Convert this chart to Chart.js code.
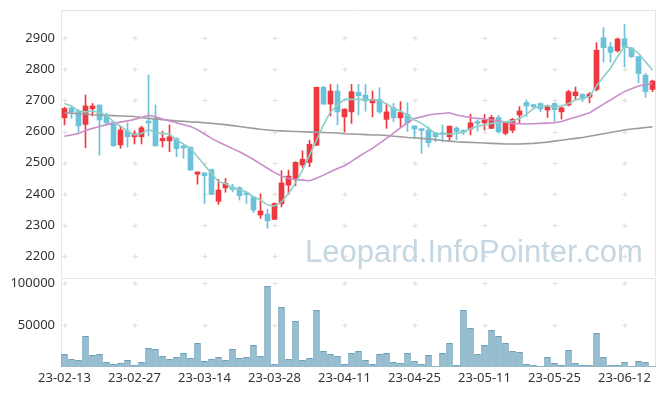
<!DOCTYPE html>
<html lang="ko">
<head>
    <meta charset="UTF-8">
    <title>Candle Chart</title>
    <script src="https://cdn.jsdelivr.net/npm/chart.js"></script>
    <style>
        body { margin: 0; background: #fff; }
        #wrap { position: relative; width: 665px; height: 396px; overflow: hidden; }
        #priceChart { position: absolute; left: 0; top: 0; }
        #volChart { position: absolute; left: 0; top: 277px; }
        /* watermark */
        #mark {
            position: absolute; left: 305px; top: 236px;
            font: 31px/31px "Liberation Sans", Arial, sans-serif;
            color: #c4d7e2; white-space: nowrap; pointer-events: none;
        }
    </style>
</head>
<body>
<div id="wrap">
    <canvas id="priceChart" width="665" height="277"></canvas>
    <canvas id="volChart" width="665" height="119"></canvas>
    <div id="mark">Leopard.InfoPointer.com</div>
</div>
<script>
    // trading days
    const dates = [
        '23-02-13','23-02-14','23-02-15','23-02-16','23-02-17','23-02-20','23-02-21','23-02-22','23-02-23','23-02-24',
        '23-02-27','23-02-28','23-03-02','23-03-03','23-03-06','23-03-07','23-03-08','23-03-09','23-03-10','23-03-13',
        '23-03-14','23-03-15','23-03-16','23-03-17','23-03-20','23-03-21','23-03-22','23-03-23','23-03-24','23-03-27',
        '23-03-28','23-03-29','23-03-30','23-03-31','23-04-03','23-04-04','23-04-05','23-04-06','23-04-07','23-04-10',
        '23-04-11','23-04-12','23-04-13','23-04-14','23-04-17','23-04-18','23-04-19','23-04-20','23-04-21','23-04-24',
        '23-04-25','23-04-26','23-04-27','23-04-28','23-05-02','23-05-03','23-05-04','23-05-08','23-05-09','23-05-10',
        '23-05-11','23-05-12','23-05-15','23-05-16','23-05-17','23-05-18','23-05-19','23-05-22','23-05-23','23-05-24',
        '23-05-25','23-05-26','23-05-30','23-05-31','23-06-01','23-06-02','23-06-05','23-06-07','23-06-08','23-06-09',
        '23-06-12','23-06-13','23-06-14','23-06-15','23-06-16'
    ];

    const openP = [2644,2676,2666,2623,2673,2685,2653,2630,2557,2601, 2583,2583,2631,2642,2570,2570,2577,2551,2549,2463,
        2467,2478,2376,2419,2422,2420,2401,2390,2332,2335, 2318,2368,2428,2447,2492,2501,2556,2742,2688,2730,
        2647,2663,2726,2717,2692,2703,2639,2676,2644,2655, 2618,2606,2604,2596,2593,2583,2611,2601,2608,2629,
        2628,2610,2645,2594,2604,2653,2693,2685,2690,2669, 2690,2663,2685,2715,2719,2710,2735,2901,2872,2859,
        2897,2868,2840,2781,2735];
    const highP = [2678,2677,2670,2717,2690,2685,2659,2632,2617,2628, 2602,2617,2781,2685,2601,2621,2580,2556,2551,2471,
        2468,2480,2447,2449,2431,2423,2401,2391,2400,2350, 2371,2474,2476,2503,2538,2572,2742,2746,2751,2751,
        2673,2751,2752,2751,2730,2741,2690,2690,2696,2692, 2618,2606,2615,2597,2621,2618,2615,2605,2655,2637,
        2655,2652,2652,2630,2642,2680,2701,2687,2692,2685, 2692,2680,2732,2743,2722,2725,2885,2934,2886,2900,
        2944,2870,2842,2787,2765];
    const lowP = [2621,2642,2599,2548,2650,2524,2621,2553,2546,2550, 2560,2560,2586,2553,2550,2535,2519,2514,2475,2431,
        2369,2397,2366,2405,2406,2380,2369,2340,2321,2289, 2317,2358,2398,2426,2485,2487,2555,2687,2650,2621,
        2599,2626,2653,2665,2647,2658,2610,2631,2615,2600, 2578,2530,2551,2567,2567,2567,2573,2590,2589,2601,
        2605,2609,2594,2589,2596,2626,2648,2672,2663,2645, 2631,2640,2682,2700,2696,2692,2730,2823,2822,2855,
        2808,2838,2756,2710,2728];
    const closeP = [2674,2663,2618,2682,2682,2637,2628,2554,2605,2583, 2592,2612,2627,2554,2578,2583,2545,2547,2476,2470,
        2458,2398,2412,2433,2414,2394,2397,2348,2345,2313, 2369,2435,2457,2501,2511,2559,2742,2688,2730,2663,
        2672,2728,2715,2698,2703,2663,2663,2644,2661,2628, 2608,2603,2564,2583,2590,2617,2600,2598,2628,2626,
        2637,2645,2599,2629,2639,2666,2682,2680,2672,2682, 2670,2676,2728,2727,2704,2720,2861,2869,2854,2897,
        2870,2840,2786,2728,2762];

    // moving averages
    const ma5 = [2690,2682,2666,2663,2666,2660,2653,2631,2617,2601, 2589,2594,2607,2596,2594,2592,2572,2560,2546,2519,
        2492,2466,2439,2432,2419,2414,2406,2390,2380,2364, 2361,2374,2401,2435,2476,2524,2572,2621,2663,2685,
        2703,2703,2703,2701,2701,2701,2688,2674,2666,2653, 2637,2626,2610,2594,2591,2592,2594,2597,2610,2617,
        2621,2626,2629,2631,2634,2642,2655,2674,2682,2682, 2679,2682,2690,2701,2706,2712,2746,2776,2803,2840,
        2872,2867,2851,2824,2797];
    const ma20 = [2585,2589,2594,2603,2610,2616,2622,2626,2630,2634, 2639,2645,2652,2647,2640,2634,2628,2622,2616,2606,
        2592,2578,2566,2556,2545,2535,2523,2510,2496,2482, 2468,2457,2450,2446,2444,2442,2450,2460,2471,2481,
        2490,2504,2519,2533,2546,2562,2578,2595,2612,2628, 2642,2647,2653,2656,2658,2660,2653,2649,2645,2642,
        2640,2637,2634,2630,2626,2625,2624,2625,2626,2627, 2628,2632,2639,2646,2653,2660,2674,2688,2701,2715,
        2728,2737,2746,2751,2755];
    const ma60 = [2660,2659,2657,2656,2654,2653,2652,2651,2650,2649, 2648,2645,2642,2640,2638,2636,2634,2633,2631,2630,
        2628,2626,2624,2622,2619,2616,2613,2610,2607,2605, 2603,2602,2601,2600,2599,2598,2598,2597,2596,2595,
        2593,2592,2591,2590,2589,2589,2587,2585,2583,2581, 2580,2578,2576,2574,2571,2569,2567,2566,2565,2564,
        2563,2562,2561,2560,2560,2560,2561,2562,2564,2566, 2569,2572,2575,2578,2581,2585,2589,2593,2597,2601,
        2605,2608,2610,2613,2615];

    const volume = [15000,9100,7900,36500,13900,15100,5600,3200,4400,7900, 2000,5600,22200,21000,12700,9100,11500,16300,10300,28200,
        6700,9100,11500,7900,21000,10300,11500,25800,12700,96000, 3200,71000,9100,54400,7900,10300,67500,18700,15100,12700,
        3200,16300,18700,7900,3200,15100,16300,5600,4400,16300, 6700,3200,13900,800,16300,28200,2000,67500,46000,15100,
        25800,43600,36500,28200,18700,17500,3200,2000,800,11500, 4400,2000,19800,4400,2000,2000,40100,11500,2000,2000,
        5600,800,6700,5600,800];

    const priceTicks = [2200, 2300, 2400, 2500, 2600, 2700, 2800, 2900];
    const volumeTicks = [50000, 100000];

    const UP = '#ec383e';
    const DOWN = '#6cc3d9';
    const candleColor = ctx => closeP[ctx.dataIndex] >= openP[ctx.dataIndex] ? UP : DOWN;

    Chart.defaults.font.family = '"Noto Sans", sans-serif';
    Chart.defaults.font.size = 13;
    Chart.defaults.color = '#333';

    // light box + small "+" marks where the grid would cross
    const plusGrid = {
        id: 'plusGrid',
        beforeDatasetsDraw(chart, args, opts) {
            const { ctx, chartArea: a, scales } = chart;
            const L = a.left + 0.5, R = a.right - 0.5, T = a.top + 0.5, B = a.bottom - 0.5;
            ctx.save();
            ctx.strokeStyle = '#e4e4e4';
            ctx.lineWidth = 1;
            ctx.beginPath();
            ctx.moveTo(L, B); ctx.lineTo(L, T); ctx.lineTo(R, T); ctx.lineTo(R, B);
            if (opts.bottom) { ctx.lineTo(L, B); }
            ctx.stroke();

            const xs = dates.map((d, i) => i).filter(i => i % 10 === 0)
                .map(i => Math.floor(scales.x.getPixelForValue(i)) + 0.5);
            const ys = scales.y.ticks.map(t => Math.round(scales.y.getPixelForValue(t.value)) + 0.5);
            ctx.strokeStyle = '#dedede';
            ctx.beginPath();
            xs.forEach(x => ys.forEach(y => {
                ctx.moveTo(x - 2, y); ctx.lineTo(x + 3, y);
                ctx.moveTo(x + 0.5, y - 2.5); ctx.lineTo(x + 0.5, y + 2.5);
            }));
            ctx.stroke();
            ctx.restore();
        }
    };

    // fixed axis width, and no extra room for labels sticking out
    const yCommon = {
        afterFit: s => { s.width = 61; s.paddingTop = 0; s.paddingBottom = 0; },
        grid: { display: false, drawTicks: false },
        border: { display: false },
        ticks: { padding: 6, color: '#333', callback: v => String(v) }
    };

    // price panel
    new Chart(document.getElementById('priceChart'), {
        type: 'bar',
        data: {
            labels: dates,
            datasets: [
                { type: 'line', data: ma5, borderColor: '#8ccfc6', borderWidth: 1.6, pointRadius: 0, order: 1 },
                { type: 'line', data: ma20, borderColor: '#c98dc8', borderWidth: 1.6, pointRadius: 0, order: 1 },
                { type: 'line', data: ma60, borderColor: '#9c9c9c', borderWidth: 1.6, pointRadius: 0, order: 1 },
                {
                    data: dates.map((d, i) => [openP[i], closeP[i]]),
                    backgroundColor: candleColor, barThickness: 5, minBarLength: 2, grouped: false, order: 2
                },
                {
                    data: dates.map((d, i) => [lowP[i], highP[i]]),
                    backgroundColor: candleColor, barThickness: 1, grouped: false, order: 3
                }
            ]
        },
        options: {
            responsive: false,
            animation: false,
            events: [],
            layout: { padding: { top: 10, right: 9, bottom: 0, left: 0 } },
            plugins: { legend: { display: false }, tooltip: { enabled: false }, plusGrid: { bottom: false } },
            scales: {
                x: { type: 'category', offset: true, display: false },
                y: Object.assign({}, yCommon, {
                    min: 2133, max: 2990,
                    afterBuildTicks: s => { s.ticks = priceTicks.map(v => ({ value: v })); }
                })
            }
        },
        plugins: [plusGrid]
    });

    // volume panel
    new Chart(document.getElementById('volChart'), {
        type: 'bar',
        data: {
            labels: dates,
            datasets: [{
                data: volume,
                backgroundColor: '#97bfd2',
                borderColor: '#6f9fb7',
                borderWidth: 1,
                barThickness: 6
            }]
        },
        options: {
            responsive: false,
            animation: false,
            events: [],
            layout: { padding: { top: 1, right: 9, bottom: 0, left: 0 } },
            plugins: { legend: { display: false }, tooltip: { enabled: false }, plusGrid: { bottom: true } },
            scales: {
                x: {
                    type: 'category', offset: true,
                    afterFit: s => { s.height = 29; s.paddingLeft = 0; s.paddingRight = 0; },
                    grid: { display: false, drawTicks: false },
                    border: { display: false },
                    ticks: {
                        autoSkip: false, maxRotation: 0, padding: 3, color: '#333',
                        callback: (v, i) => (i % 10 === 0 ? dates[i] : '')
                    }
                },
                y: Object.assign({}, yCommon, {
                    min: 0, max: 105950,
                    afterBuildTicks: s => { s.ticks = volumeTicks.map(v => ({ value: v })); }
                })
            }
        },
        plugins: [plusGrid]
    });
</script>
</body>
</html>
